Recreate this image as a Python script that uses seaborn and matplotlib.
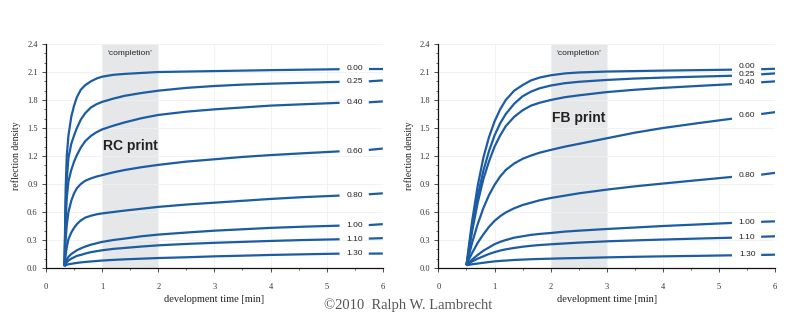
import numpy as np
import pandas as pd
import matplotlib
matplotlib.use("Agg")
import matplotlib.pyplot as plt
from matplotlib.ticker import MultipleLocator
import seaborn as sns

# ---------------- data ----------------
contrast_labels = ["0.00", "0.25", "0.40", "0.60", "0.80", "1.00", "1.10", "1.30"]

rc_time = [0.33, 0.34, 0.35, 0.37, 0.40, 0.45, 0.50, 0.55, 0.62, 0.70, 0.80, 0.90,
           1.0, 1.2, 1.4, 1.7, 2.0, 2.5, 3.0, 3.5, 4.0, 4.6, 5.23]
rc_000 = [0.02, 0.45, 0.85, 1.20, 1.42, 1.62, 1.74, 1.83, 1.91, 1.96, 2.00, 2.03,
          2.05, 2.07, 2.08, 2.09, 2.10, 2.105, 2.11, 2.115, 2.12, 2.125, 2.13]
rc_025 = [0.02, 0.35, 0.65, 0.95, 1.18, 1.33, 1.42, 1.50, 1.59, 1.66, 1.72, 1.755,
          1.78, 1.815, 1.845, 1.875, 1.90, 1.93, 1.95, 1.965, 1.975, 1.985, 1.995]
rc_040 = [0.02, 0.28, 0.50, 0.75, 0.93, 1.05, 1.14, 1.21, 1.29, 1.36, 1.415, 1.455,
          1.485, 1.525, 1.56, 1.605, 1.64, 1.675, 1.70, 1.72, 1.74, 1.755, 1.77]
rc_060 = [0.02, 0.16, 0.30, 0.46, 0.60, 0.72, 0.80, 0.855, 0.90, 0.935, 0.96, 0.98,
          0.995, 1.025, 1.05, 1.08, 1.105, 1.14, 1.165, 1.19, 1.21, 1.23, 1.25]
rc_080 = [0.02, 0.08, 0.14, 0.22, 0.31, 0.38, 0.43, 0.47, 0.51, 0.54, 0.56, 0.575,
          0.585, 0.60, 0.615, 0.635, 0.655, 0.68, 0.70, 0.72, 0.74, 0.76, 0.776]
rc_100 = [0.02, 0.04, 0.06, 0.09, 0.12, 0.15, 0.17, 0.19, 0.21, 0.23, 0.25, 0.265,
          0.28, 0.30, 0.315, 0.34, 0.358, 0.38, 0.40, 0.415, 0.43, 0.443, 0.454]
rc_110 = [0.02, 0.03, 0.045, 0.06, 0.08, 0.10, 0.115, 0.13, 0.14, 0.155, 0.17, 0.18,
          0.19, 0.205, 0.215, 0.23, 0.243, 0.258, 0.27, 0.28, 0.29, 0.30, 0.308]
rc_130 = [0.02, 0.025, 0.03, 0.035, 0.04, 0.045, 0.05, 0.055, 0.06, 0.065, 0.07, 0.075,
          0.08, 0.087, 0.093, 0.10, 0.107, 0.115, 0.125, 0.132, 0.14, 0.147, 0.154]
rc_series = [rc_000, rc_025, rc_040, rc_060, rc_080, rc_100, rc_110, rc_130]

fb_time = [0.5, 0.55, 0.6, 0.7, 0.8, 0.9, 1.0, 1.1, 1.2, 1.35, 1.5, 1.65, 1.8, 2.0,
           2.25, 2.5, 3.0, 3.5, 4.0, 4.6, 5.23]
fb_000 = [0.03, 0.27, 0.50, 0.88, 1.18, 1.40, 1.57, 1.70, 1.80, 1.90, 1.96, 2.01, 2.04,
          2.065, 2.085, 2.095, 2.105, 2.11, 2.115, 2.12, 2.125]
fb_025 = [0.03, 0.23, 0.43, 0.77, 1.04, 1.25, 1.42, 1.55, 1.65, 1.76, 1.84, 1.89, 1.925,
          1.955, 1.98, 1.995, 2.015, 2.03, 2.04, 2.05, 2.06]
fb_040 = [0.03, 0.21, 0.39, 0.70, 0.95, 1.14, 1.30, 1.42, 1.52, 1.62, 1.69, 1.74, 1.77,
          1.80, 1.83, 1.85, 1.885, 1.91, 1.93, 1.95, 1.97]
fb_060 = [0.03, 0.15, 0.27, 0.47, 0.64, 0.78, 0.89, 0.98, 1.05, 1.12, 1.17, 1.205, 1.235,
          1.265, 1.30, 1.33, 1.39, 1.45, 1.50, 1.55, 1.60]
fb_080 = [0.03, 0.10, 0.16, 0.27, 0.36, 0.44, 0.505, 0.555, 0.595, 0.64, 0.675, 0.70,
          0.725, 0.75, 0.775, 0.80, 0.84, 0.875, 0.905, 0.94, 0.976]
fb_100 = [0.03, 0.06, 0.09, 0.14, 0.185, 0.22, 0.255, 0.28, 0.30, 0.325, 0.34, 0.355,
          0.365, 0.375, 0.39, 0.40, 0.418, 0.434, 0.45, 0.466, 0.483]
fb_110 = [0.03, 0.05, 0.07, 0.10, 0.125, 0.15, 0.17, 0.187, 0.20, 0.215, 0.228, 0.238,
          0.246, 0.254, 0.263, 0.272, 0.286, 0.296, 0.305, 0.315, 0.325]
fb_130 = [0.03, 0.035, 0.04, 0.048, 0.056, 0.064, 0.071, 0.076, 0.080, 0.086, 0.09,
          0.094, 0.097, 0.10, 0.104, 0.107, 0.114, 0.12, 0.125, 0.13, 0.136]
fb_series = [fb_000, fb_025, fb_040, fb_060, fb_080, fb_100, fb_110, fb_130]

# short continuation dashes at the right edge (after the labels)
dash_time = [5.75, 6.0]
rc_dash = [[2.13, 2.13], [2.0, 2.01], [1.775, 1.785], [1.265, 1.28],
           [0.79, 0.80], [0.46, 0.47], [0.315, 0.32], [0.154, 0.155]]
fb_dash = [[2.13, 2.135], [2.075, 2.085], [1.99, 2.0], [1.65, 1.67],
           [1.0, 1.02], [0.495, 0.50], [0.335, 0.34], [0.14, 0.143]]

label_x = 5.5
rc_label_y = [2.14, 1.995, 1.77, 1.25, 0.776, 0.454, 0.308, 0.154]
fb_label_y = [2.155, 2.07, 1.99, 1.63, 0.99, 0.49, 0.33, 0.14]

x_ticks = [0, 1, 2, 3, 4, 5, 6]
y_ticks = [0.0, 0.3, 0.6, 0.9, 1.2, 1.5, 1.8, 2.1, 2.4]

panels = [
    dict(name="RC print", time=rc_time, series=rc_series, dash=rc_dash,
         label_y=rc_label_y, span=(1.0, 2.0), title_xy=(1.5, 1.31)),
    dict(name="FB print", time=fb_time, series=fb_series, dash=fb_dash,
         label_y=fb_label_y, span=(2.0, 3.0), title_xy=(2.5, 1.61)),
]

# ---------------- style ----------------
sns.set_theme(style="white")
plt.rcParams["font.family"] = ["Liberation Serif", "DejaVu Serif"]
blue = "#1b5ca3"
sans = ["Liberation Sans", "DejaVu Sans"]

fig = plt.figure(figsize=(8.0, 3.27), dpi=100)
axes = [fig.add_axes([0.0575, 0.1804, 0.421, 0.685]),
        fig.add_axes([0.548, 0.1804, 0.421, 0.685])]

for ax, p in zip(axes, panels):
    rows = []
    for lab, vals in zip(contrast_labels, p["series"]):
        for t, v in zip(p["time"], vals):
            rows.append(dict(time=t, density=v, grade=lab))
    for lab, vals in zip(contrast_labels, p["dash"]):
        for t, v in zip(dash_time, vals):
            rows.append(dict(time=t, density=v, grade=lab + "_d"))
    df = pd.DataFrame(rows)

    ax.axvspan(*p["span"], color="#e6e7e9", lw=0, zorder=0)
    sns.lineplot(data=df, x="time", y="density", units="grade", estimator=None,
                 color=blue, lw=1.6, ax=ax, legend=False, sort=False, zorder=3)
    for ln in ax.lines:
        ln.set_solid_joinstyle("round")
        ln.set_solid_capstyle("butt")

    for lab, ly in zip(contrast_labels, p["label_y"]):
        ax.text(label_x, ly, lab, ha="center", va="center", fontsize=6,
                family=sans, color="#222222")

    ax.text(p["span"][0] + 0.5, 2.30, "\u2018completion\u2019", ha="center", va="center",
            fontsize=6, family=sans, color="#222222")
    ax.text(p["title_xy"][0], p["title_xy"][1], p["name"], ha="center", va="center",
            fontsize=10, family=sans, fontweight="bold", color="#222222")

    ax.set_xlim(0, 6)
    ax.set_ylim(0, 2.4)
    ax.set_xticks(x_ticks)
    ax.set_xticklabels([str(t) for t in x_ticks])
    ax.set_yticks(y_ticks)
    ax.set_yticklabels([f"{t:.1f}" for t in y_ticks])
    ax.xaxis.set_minor_locator(MultipleLocator(0.5))
    ax.yaxis.set_minor_locator(MultipleLocator(0.1))
    ax.tick_params(axis="both", which="major", direction="out", length=3, width=0.6,
                   labelsize=6, colors="#333333", pad=8, bottom=True, left=True)
    ax.tick_params(axis="both", which="minor", direction="out", length=1.5, width=0.5,
                   bottom=True, left=True)
    ax.tick_params(axis="y", which="major", pad=3)
    ax.grid(True, which="major", color="#f0f0f0", lw=0.6)
    for s in ["top", "right"]:
        ax.spines[s].set_visible(False)
    for s in ["left", "bottom"]:
        ax.spines[s].set_color("#111111")
        ax.spines[s].set_linewidth(0.9)
    ax.set_xlabel("development time [min]", fontsize=7.5, color="#222222", labelpad=3)
    ax.set_ylabel("reflection density", fontsize=7, color="#222222", labelpad=4)

fig.text(0.51, 0.067, "\u00a92010  Ralph W. Lambrecht", ha="center", va="center",
         fontsize=10.5, color="#555555")

fig.savefig("out.png", dpi=100, facecolor="white")
